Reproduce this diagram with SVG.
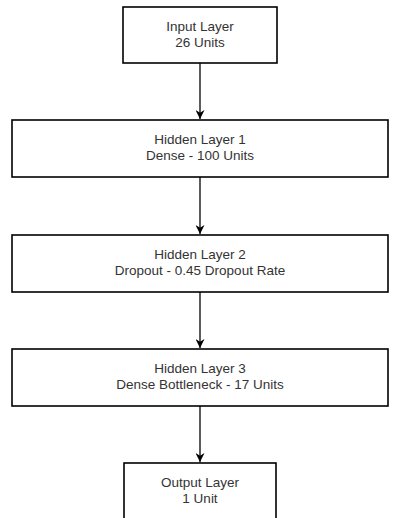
<svg xmlns="http://www.w3.org/2000/svg" width="400" height="518" viewBox="0 0 400 518">
<style>
.box{fill:#fff;stroke:#000;stroke-width:1.6}
.t{font-family:"Liberation Sans",Arial,sans-serif;font-size:13.5px;fill:#333;text-anchor:middle}
.c{stroke:#333;stroke-width:1.6;fill:none}
</style>
<defs>
<marker id="ah" viewBox="0 0 10 10" refX="10" refY="5" markerWidth="9" markerHeight="9" markerUnits="userSpaceOnUse" orient="auto">
<path d="M0,0 L10,5 L0,10 L3,5 Z" fill="#000"/>
</marker>
</defs>
<rect width="400" height="518" fill="#fff"/>
<g id="connectors">
<line class="c" x1="200" y1="63" x2="200" y2="119" marker-end="url(#ah)"/>
<line class="c" x1="200" y1="177" x2="200" y2="234" marker-end="url(#ah)"/>
<line class="c" x1="200" y1="292" x2="200" y2="348" marker-end="url(#ah)"/>
<line class="c" x1="200" y1="406" x2="200" y2="462" marker-end="url(#ah)"/>
</g>
<g id="input">
<rect class="box" x="123" y="7" width="154" height="56"/>
<text class="t" x="200" y="31">Input Layer</text>
<text class="t" x="200" y="47">26 Units</text>
</g>
<g id="hidden1">
<rect class="box" x="12" y="120" width="376" height="57"/>
<text class="t" x="200" y="144">Hidden Layer 1</text>
<text class="t" x="200" y="160">Dense - 100 Units</text>
</g>
<g id="hidden2">
<rect class="box" x="12" y="235" width="376" height="57"/>
<text class="t" x="200" y="259">Hidden Layer 2</text>
<text class="t" x="200" y="275">Dropout - 0.45 Dropout Rate</text>
</g>
<g id="hidden3">
<rect class="box" x="12" y="349" width="376" height="57"/>
<text class="t" x="200" y="373">Hidden Layer 3</text>
<text class="t" x="200" y="389">Dense Bottleneck - 17 Units</text>
</g>
<g id="output">
<rect class="box" x="124" y="463" width="152" height="60"/>
<text class="t" x="200" y="487">Output Layer</text>
<text class="t" x="200" y="503">1 Unit</text>
</g>
</svg>
